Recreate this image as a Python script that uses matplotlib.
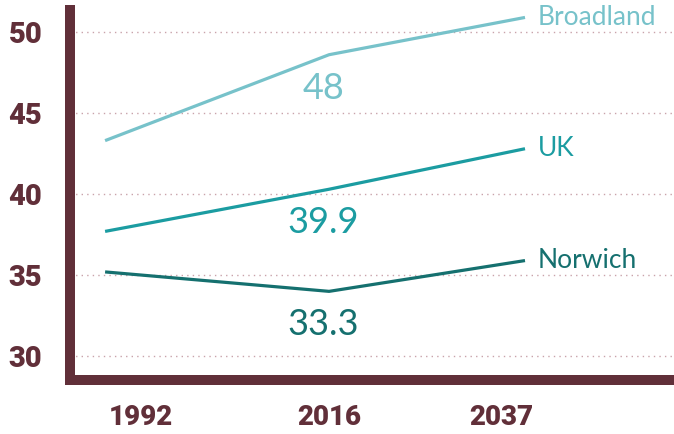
import matplotlib
matplotlib.use("Agg")
import matplotlib.pyplot as plt

# data
years = [1992, 2016, 2037]
broadland = [43.3, 48.6, 50.9]
uk = [37.7, 40.3, 42.8]
norwich = [35.2, 34.0, 35.9]
value_labels = ["48", "39.9", "33.3"]
series_names = ["Broadland", "UK", "Norwich"]
year_labels = ["1992", "2016", "2037"]
yticks = [30, 35, 40, 45, 50]

# layout
label_pos = [1995.8, 2016, 2034.5]
maroon = "#612F39"
colors = ["#77C2CA", "#1B9CA1", "#15706F"]

fig = plt.figure(figsize=(6.74, 4.34), dpi=100)
ax = fig.add_axes([0.104, 0.124, 0.893, 0.853])

series = [broadland, uk, norwich]
for i, (vals, name, col) in enumerate(zip(series, series_names, colors)):
    ax.plot(years, vals, color=col, lw=2.3, solid_capstyle="butt")
    ax.annotate(name, (years[-1], vals[-1]), xytext=(9, 0), textcoords="offset points",
                ha="left", va="center", color=col, fontsize=19, family="Lato")
    # value at 2016 shown under the line
    ax.annotate(value_labels[i], (years[1], vals[1]), xytext=(-4, -24),
                textcoords="offset points", ha="center", va="center",
                color=col, fontsize=26, family="Lato")

for y in yticks:
    ax.axhline(y, color="#C9A3AA", lw=1.0, ls=(0, (1, 3)), zorder=0)

ax.set_xlim(1988.25, 2052.75)
ax.set_ylim(28.52, 51.36)
ax.set_yticks(yticks)
ax.set_yticklabels([str(t) for t in yticks], fontsize=21, fontweight="heavy",
                   color=maroon, family="Roboto")
ax.set_xticks(label_pos)
ax.set_xticklabels(year_labels, fontsize=20, fontweight="heavy", color=maroon,
                   family="Roboto")
ax.tick_params(axis="y", length=0, pad=20)
ax.tick_params(axis="x", length=0, pad=17)

for s in ["top", "right"]:
    ax.spines[s].set_visible(False)
for s in ["left", "bottom"]:
    ax.spines[s].set_color(maroon)
    ax.spines[s].set_linewidth(7.2)
    ax.spines[s].set_capstyle("projecting")

fig.savefig("out.png", dpi=100)
